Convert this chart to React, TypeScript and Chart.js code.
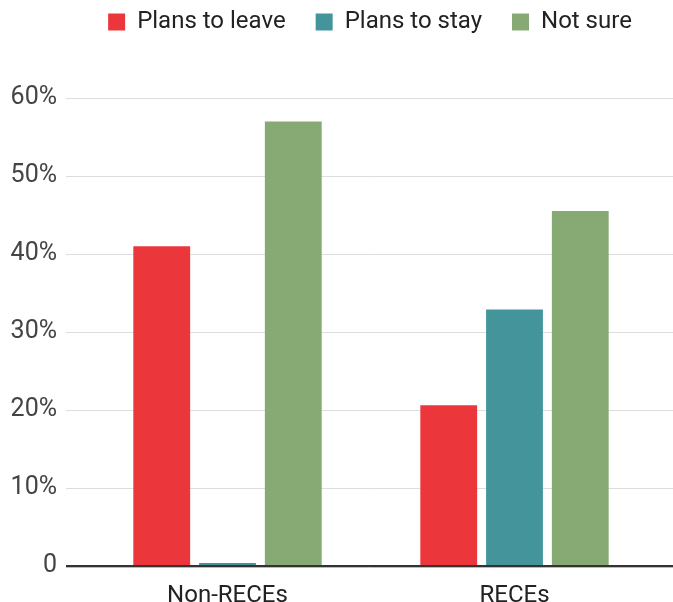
import React, { useEffect, useRef } from "react";
import { Chart, registerables } from "chart.js";

Chart.register(...registerables);

const categories = ["Non-RECEs", "RECEs"];
const seriesNames = ["Plans to leave", "Plans to stay", "Not sure"];
const plansToLeave = [41, 20.6];
const plansToStay = [0.4, 32.9];
const notSure = [57, 45.5];
const seriesColors = ["#EB373C", "#43959B", "#87AA74"];
const yTicks = [0, 10, 20, 30, 40, 50, 60];

const gridPlugin = {
  id: "extendedGrid",
  beforeDatasetsDraw(chart: any) {
    const ctx = chart.ctx;
    const y = chart.scales.y;
    ctx.save();
    ctx.strokeStyle = "#dddddd";
    ctx.lineWidth = 1;
    y.ticks.forEach((t: any) => {
      if (t.value === 0) return;
      const py = Math.round(y.getPixelForValue(t.value)) + 0.5;
      ctx.beginPath();
      ctx.moveTo(chart.chartArea.left - 18, py);
      ctx.lineTo(chart.width, py);
      ctx.stroke();
    });
    ctx.restore();
  },
  afterDatasetsDraw(chart: any) {
    const ctx = chart.ctx;
    const y = chart.scales.y;
    const py = y.getPixelForValue(0);
    ctx.save();
    ctx.strokeStyle = "#bbbbbb";
    ctx.lineWidth = 1;
    ctx.beginPath();
    ctx.moveTo(chart.chartArea.left - 18, py + 1.5);
    ctx.lineTo(chart.width, py + 1.5);
    ctx.stroke();
    ctx.strokeStyle = "#333333";
    ctx.lineWidth = 2;
    ctx.beginPath();
    ctx.moveTo(chart.chartArea.left - 18, py);
    ctx.lineTo(chart.width, py);
    ctx.stroke();
    ctx.restore();
  },
};

const legendSpacer = {
  id: "legendSpacer",
  beforeInit(chart: any) {
    const orig = chart.legend.fit;
    chart.legend.fit = function () {
      orig.bind(chart.legend)();
      this.height += 34;
    };
  },
  afterLayout(chart: any) {
    const lg = chart.legend;
    lg.top -= 20;
    lg.bottom -= 20;
    lg.left += 41;
    lg.right += 41;
  },
};

export default function App() {
  const ref = useRef<HTMLCanvasElement>(null);
  useEffect(() => {
    document.body.style.margin = "0";
    const values = [plansToLeave, plansToStay, notSure];
    const chart = new Chart(ref.current!, {
      type: "bar",
      data: {
        labels: categories,
        datasets: seriesNames.map((name, i) => ({
          label: name,
          data: values[i],
          backgroundColor: seriesColors[i],
          borderWidth: 0,
          categoryPercentage: 0.6875,
          barPercentage: 0.864,
        })),
      },
      options: {
        animation: false,
        responsive: false,
        layout: { padding: { top: 0, right: 15, bottom: 0, left: 0 } },
        plugins: {
          legend: {
            position: "top",
            labels: {
              boxWidth: 17,
              boxHeight: 17,
              padding: 30,
              color: "#222",
              font: { family: "Roboto", size: 24 },
            },
          },
          tooltip: { enabled: false },
        },
        scales: {
          x: {
            grid: { display: false },
            border: { display: false },
            afterFit(scale: any) {
              scale.height = 36;
            },
            ticks: {
              color: "#222",
              font: { family: "Roboto", size: 24 },
              padding: 8,
            },
          },
          y: {
            min: 0,
            max: 60,
            afterBuildTicks(scale: any) {
              scale.ticks = yTicks.map((v) => ({ value: v }));
            },
            afterFit(scale: any) {
              scale.width = 84;
            },
            grid: { display: false, tickLength: 18 },
            border: { display: false },
            ticks: {
              color: "#444",
              padding: 9,
              font: { family: "Roboto", size: 25 },
              callback: (v: any) => (v === 0 ? "0" : v + "%"),
            },
          },
        },
      },
      plugins: [gridPlugin, legendSpacer],
    });
    return () => chart.destroy();
  }, []);
  return (
    <div style={{ width: 673, height: 602 }}>
      <canvas ref={ref} width={673} height={602} />
    </div>
  );
}
